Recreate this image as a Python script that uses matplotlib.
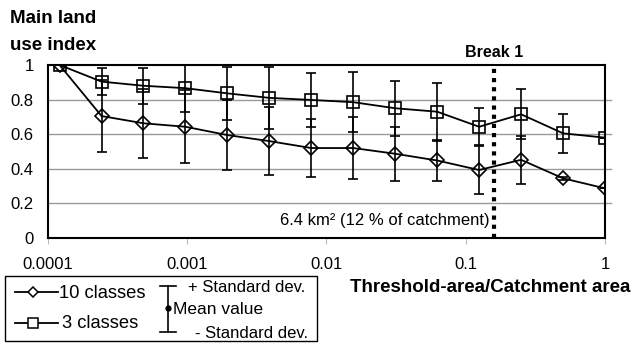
import numpy as np
import matplotlib
matplotlib.use("Agg")
import matplotlib.pyplot as plt
from matplotlib.patches import Rectangle

plt.rcParams['font.family'] = ['Liberation Sans', 'DejaVu Sans']

# threshold area / catchment area (halving steps)
ratio = [2.0 ** -k for k in range(13, -1, -1)]

# 10 classes: mean and standard deviation
mean_10 = [1.00, 0.705, 0.663, 0.643, 0.595, 0.56, 0.52, 0.52, 0.487, 0.448, 0.393, 0.452, 0.345, 0.287]
std_10 = [0.0, 0.21, 0.20, 0.21, 0.20, 0.195, 0.165, 0.178, 0.156, 0.117, 0.14, 0.14, 0.01, 0.0]

# 3 classes: mean and standard deviation
mean_3 = [1.00, 0.904, 0.88, 0.866, 0.836, 0.81, 0.798, 0.785, 0.75, 0.73, 0.643, 0.715, 0.605, 0.58]
std_3 = [0.0, 0.08, 0.105, 0.135, 0.155, 0.178, 0.157, 0.175, 0.16, 0.167, 0.106, 0.145, 0.113, 0.0]

y_ticks = [0, 0.2, 0.4, 0.6, 0.8, 1]
x_ticks = [0.0001, 0.001, 0.01, 0.1, 1]
x_tick_labels = ['0.0001', '0.001', '0.01', '0.1', '1']
break_x = 0.16

W, H = 632, 343
fig = plt.figure(figsize=(W / 100, H / 100), dpi=100)
ax = fig.add_axes([47.5 / W, 1 - 238 / H, (605 - 47.5) / W, (238 - 65) / H])

ax.set_xscale('log')
ax.set_xlim(1e-4, 1)
ax.set_ylim(0, 1)

for yv in y_ticks[1:-1]:
    ax.axhline(yv, color='#999999', lw=1, zorder=0, clip_on=False, xmax=1.01)

kw = dict(color='black', lw=1.3, ecolor='black', elinewidth=1.2, capsize=3.8,
          capthick=1.3, mfc='none', mec='black', mew=1.2)
ax.errorbar(ratio, mean_3, yerr=std_3, marker='s', ms=8, **kw)
ax.errorbar(ratio, mean_10, yerr=std_10, marker='D', ms=7, **kw)

ax.axvline(break_x, color='black', lw=3, ls=(0, (1, 1.2)), zorder=5)
ax.text(break_x, 1.03, 'Break 1', ha='center', va='bottom', fontsize=11.5, fontweight='bold',
        transform=ax.get_xaxis_transform())
ax.text(0.148, 0.1, '6.4 km² (12 % of catchment)', ha='right', va='center', fontsize=12)

ax.set_yticks(y_ticks)
ax.set_yticklabels(['0', '0.2', '0.4', '0.6', '0.8', '1'], fontsize=12)
ax.set_xticks(x_ticks)
ax.set_xticklabels(x_tick_labels, fontsize=12)
ax.xaxis.set_minor_locator(matplotlib.ticker.NullLocator())
ax.tick_params(axis='y', length=0, pad=10)
ax.tick_params(axis='x', length=4, color='#bbbbbb', direction='out', pad=10)
for s in ax.spines.values():
    s.set_linewidth(1.5)

fig.text(10 / W, 1 - 10 / H, 'Main land\nuse index', ha='left', va='top', fontsize=13.5,
         fontweight='bold', linespacing=1.8)
fig.text(630 / W, 1 - 288 / H, 'Threshold-area/Catchment area', ha='right', va='center',
         fontsize=13.5, fontweight='bold')

# legend drawn in pixel coordinates
lg = fig.add_axes([0, 0, 1, 1])
lg.set_xlim(0, W)
lg.set_ylim(H, 0)
lg.axis('off')
lg.add_patch(Rectangle((5, 276), 312, 65, fill=False, ec='black', lw=1))
lg.plot([15, 58], [292, 292], color='black', lw=1.3)
lg.plot([33], [292], marker='D', ms=5, mfc='white', mec='black', mew=1.1)
lg.text(59, 293, '10 classes', va='center', fontsize=13.2)
lg.plot([15, 58], [323, 323], color='black', lw=1.3)
lg.plot([33], [323], marker='s', ms=6.5, mfc='white', mec='black', mew=1.1)
lg.text(62, 324, '3 classes', va='center', fontsize=13.2)
lg.plot([168, 168], [286, 332], color='black', lw=1.2)
lg.plot([160, 176], [286, 286], color='black', lw=1.2)
lg.plot([160, 176], [332, 332], color='black', lw=1.2)
lg.plot([168], [308], marker='o', ms=3.5, color='black')
lg.text(188, 287, '+ Standard dev.', va='center', fontsize=12)
lg.text(173, 310, 'Mean value', va='center', fontsize=12.5)
lg.text(195, 334, '- Standard dev.', va='center', fontsize=12)

fig.savefig('out.png', dpi=100)
